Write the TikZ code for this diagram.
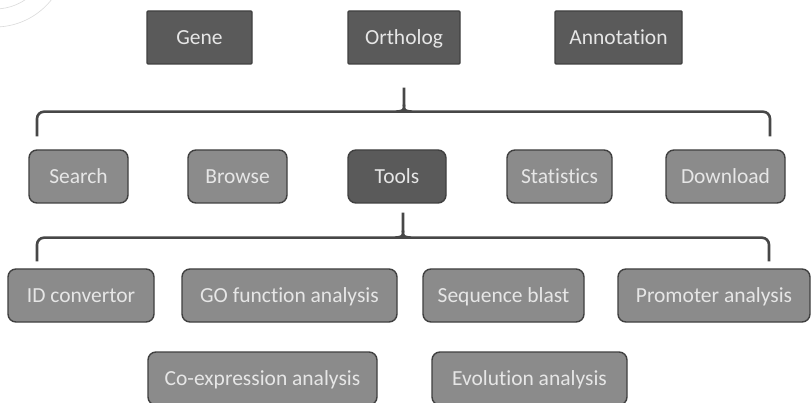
\documentclass[tikz,border=0pt]{standalone}
\usepackage{fontspec}
\setmainfont[Ligatures=NoCommon]{Carlito}
\usetikzlibrary{calc}

\definecolor{boxdark}{HTML}{5A5A5A}
\definecolor{boxlight}{HTML}{8B8B8B}
\definecolor{edgegray}{HTML}{404040}
\definecolor{linegray}{HTML}{474747}
\definecolor{txtgray}{HTML}{E6E6E6}

\begin{document}
\begin{tikzpicture}
  [
    x=1pt, y=-1pt,
    box/.style={draw=edgegray, line width=1.4pt, minimum height=53pt, inner sep=0pt,
      text height=13.6pt, text depth=0pt,
      text=txtgray, font=\fontsize{21.5}{24}\selectfont},
    topbox/.style={box, fill=boxdark, rounded corners=1pt},
    menubox/.style={box, fill=boxlight, rounded corners=8pt},
    bracket/.style={draw=linegray, line width=2.6pt},
    deco/.style={draw=black!14, line width=0.6pt}
  ]
  \useasboundingbox (0,0) rectangle (811,403);
  \fill[white] (0,0) rectangle (811,403);
  % faint arcs in the corner
  \draw[deco] (-5,-45) circle (54pt);
  \draw[deco] (-5,-45) circle (72pt);
  % top row
  \node[topbox, minimum width=105pt] (gene) at (199.5,37.5) {Gene};
  \node[topbox, minimum width=112pt] (ortholog) at (404,37.5) {Ortholog};
  \node[topbox, minimum width=127pt] (annotation) at (618.5,37.5) {Annotation};
  % menu row
  \node[menubox, minimum width=99pt] (search) at (78.5,176.5) {Search};
  \node[menubox, minimum width=99pt] (browse) at (237.5,176.5) {Browse};
  \node[menubox, fill=boxdark, minimum width=98pt] (tools) at (397,176.5) {Tools};
  \node[menubox, minimum width=105pt] (stats) at (559.5,176.5) {Statistics};
  \node[menubox, minimum width=119pt] (download) at (725.5,176.5) {Download};
  % tools rows
  \node[menubox, minimum width=146pt] (idconv) at (81,295.5) {ID convertor};
  \node[menubox, minimum width=215pt] (gofunc) at (289.5,295.5) {GO function analysis};
  \node[menubox, minimum width=161pt] (seqblast) at (503.5,295.5) {Sequence blast};
  \node[menubox, minimum width=192pt] (promoter) at (714,295.5) {Promoter analysis};
  \node[menubox, minimum width=229pt] (coexpr) at (262.5,378.5) {Co-expression analysis};
  \node[menubox, minimum width=195pt] (evolution) at (529.5,378.5) {Evolution analysis};
  % bracket under the top row
  \coordinate (b1top) at ([yshift=-23pt]ortholog.south);
  \coordinate (b1c) at ($(b1top)+(0,24)$);
  \coordinate (b1l) at ([yshift=13pt]search.north -| 37,0);
  \coordinate (b1r) at ([yshift=13pt]download.north -| 770,0);
  \draw[bracket, rounded corners=7pt] (b1l) |- (b1c) -| (b1r);
  \draw[bracket] (b1top) -- ($(b1c)+(0,-7)$)
    .. controls ($(b1c)+(0,-1)$) .. ($(b1c)+(-8,0)$);
  \draw[bracket] ($(b1c)+(0,-7)$)
    .. controls ($(b1c)+(0,-1)$) .. ($(b1c)+(8,0)$);
  % bracket under the tools box
  \coordinate (b2top) at ([xshift=6pt,yshift=-9pt]tools.south);
  \coordinate (b2c) at ($(b2top)+(0,25)$);
  \coordinate (b2l) at ([yshift=7pt]idconv.north -| 37,0);
  \coordinate (b2r) at ([yshift=7pt]promoter.north -| 769,0);
  \draw[bracket, rounded corners=7pt] (b2l) |- (b2c) -| (b2r);
  \draw[bracket] (b2top) -- ($(b2c)+(0,-7)$)
    .. controls ($(b2c)+(0,-1)$) .. ($(b2c)+(-8,0)$);
  \draw[bracket] ($(b2c)+(0,-7)$)
    .. controls ($(b2c)+(0,-1)$) .. ($(b2c)+(8,0)$);
\end{tikzpicture}
\end{document}
